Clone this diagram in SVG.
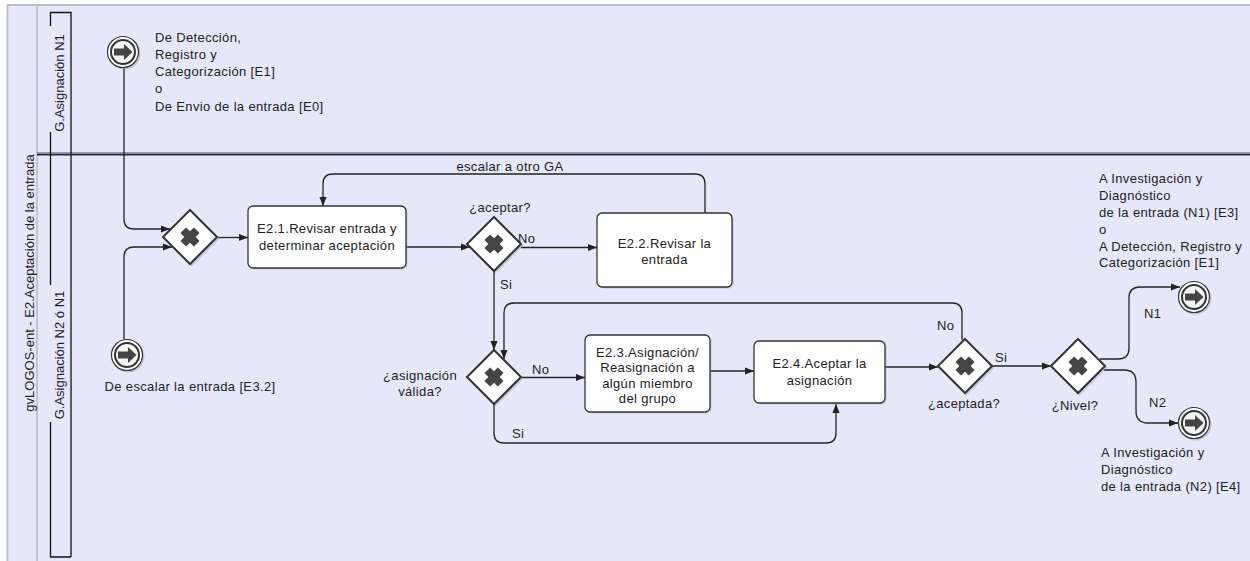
<svg xmlns="http://www.w3.org/2000/svg" width="1250" height="561" viewBox="0 0 1250 561">
<defs>
<style>
text{font-family:"Liberation Sans",Arial,sans-serif;font-size:13px;fill:#222;letter-spacing:0.35px}
.r{letter-spacing:0}
.c{text-anchor:middle}
.task{fill:#fff;stroke:#333;stroke-width:1.3}
.gw{fill:#fff;stroke:#333;stroke-width:2}
.x{fill:#444}
.conn{fill:none;stroke:#222;stroke-width:1.3}
.ev1{fill:#fff;stroke:#333;stroke-width:1.2}
.ev2{fill:#f4f4f4;stroke:#333;stroke-width:2}
.arr{fill:#444}
.sh{fill:#9a9aae;opacity:0.45}
</style>
<marker id="ah" viewBox="0 0 10 10" refX="10" refY="5" markerWidth="9" markerHeight="9" markerUnits="userSpaceOnUse" orient="auto">
<path d="M0,1 L10,5 L0,9 Z" fill="#222"/>
</marker>
<g id="xmark"><path class="x" d="M-4,-9.5 H4 V-4 H9.5 V4 H4 V9.5 H-4 V4 H-9.5 V-4 H-4 Z" transform="rotate(45)"/></g>
<g id="link">
<circle class="sh" cx="1.5" cy="1.5" r="16"/>
<circle class="ev1" r="15.5"/>
<circle class="ev2" r="12"/>
<path class="arr" d="M-9,-3.5 H1 V-8 L9.5,0 L1,8 V3.5 H-9 Z"/>
</g>
<g id="gwshape">
<path class="sh" d="M1.5,-25.5 L29.5,1.5 L1.5,29.5 L-25.5,1.5 Z"/>
<path class="gw" d="M0,-27 L27,0 L0,27 L-27,0 Z"/>
<use href="#xmark"/>
</g>
</defs>

<!-- pool -->
<g id="pool">
<rect x="0" y="0" width="1250" height="561" fill="#fff"/>
<rect x="7" y="5" width="1243" height="556" fill="#e7e7fb"/>
<line x1="7" y1="5" x2="1250" y2="5" stroke="#bdbdc6" stroke-width="2"/>
<line x1="7.5" y1="5" x2="7.5" y2="561" stroke="#bdbdc6" stroke-width="2"/>
<line x1="37" y1="5" x2="37" y2="561" stroke="#c4c4cc" stroke-width="2"/>
<text transform="translate(34,283) rotate(-90)" class="c r">gvLOGOS-ent - E2.Aceptación de la entrada</text>
<line x1="37" y1="152.5" x2="1250" y2="152.5" stroke="#9a9aa8" stroke-width="1"/>
<line x1="37" y1="154.5" x2="1250" y2="154.5" stroke="#2a2a35" stroke-width="2"/>
</g>

<g id="lane1">
<path d="M50.5,26 V12.5 H71 V557" fill="none" stroke="#111" stroke-width="1.3"/>
<line x1="50.5" y1="132" x2="50.5" y2="285" stroke="#111" stroke-width="1.3"/>
<text transform="translate(64,83) rotate(-90)" class="c r">G.Asignación N1</text>
</g>
<g id="lane2">
<path d="M50.5,422 V557 H71" fill="none" stroke="#111" stroke-width="1.3"/>
<text transform="translate(64,355) rotate(-90)" class="c r">G.Asignación N2 ó N1</text>
</g>

<!-- connectors -->
<g id="connectors">
<path class="conn" marker-end="url(#ah)" d="M124,68 V219 Q124,229 134,229 H170"/>
<path class="conn" marker-end="url(#ah)" d="M124,339 V257 Q124,247 134,247 H172"/>
<path class="conn" marker-end="url(#ah)" d="M218,237.5 H248"/>
<path class="conn" marker-end="url(#ah)" d="M406,247 H470"/>
<path class="conn" marker-end="url(#ah)" d="M521,247.5 H597"/>
<path class="conn" marker-end="url(#ah)" d="M705,213 V184 Q705,174 695,174 H333 Q323,174 323,184 V206"/>
<path class="conn" marker-end="url(#ah)" d="M494,271 V350"/>
<path class="conn" marker-end="url(#ah)" d="M962,340 V313 Q962,303 952,303 H514 Q504,303 504,313 V359"/>
<path class="conn" marker-end="url(#ah)" d="M522,377.5 H585"/>
<path class="conn" marker-end="url(#ah)" d="M710,371 H754"/>
<path class="conn" marker-end="url(#ah)" d="M494,404 V433 Q494,443 504,443 H826 Q836,443 836,433 V404"/>
<path class="conn" marker-end="url(#ah)" d="M885,367 H938"/>
<path class="conn" marker-end="url(#ah)" d="M992,366 H1051"/>
<path class="conn" marker-end="url(#ah)" d="M1100,359 H1118 Q1129,359 1129,348 V298 Q1129,287 1140,287 H1180"/>
<path class="conn" marker-end="url(#ah)" d="M1104,370 H1124 Q1136,370 1136,382 V411 Q1136,423 1148,423 H1178"/>
</g>

<!-- connector labels -->
<g id="labels">
<text x="510" y="171" class="c">escalar a otro GA</text>
<text x="518" y="243">No</text>
<text x="500" y="289">Si</text>
<text x="532" y="374">No</text>
<text x="512" y="438">Si</text>
<text x="937" y="330">No</text>
<text x="995" y="362">Si</text>
<text x="1144" y="318">N1</text>
<text x="1149" y="407">N2</text>
</g>

<!-- nodes -->
<g id="start1">
<use href="#link" x="123" y="52"/>
<text x="155" y="42">De Detección,</text>
<text x="155" y="59">Registro y</text>
<text x="155" y="76">Categorización [E1]</text>
<text x="155" y="93">o</text>
<text x="155" y="111">De Envio de la entrada [E0]</text>
</g>

<g id="start2">
<use href="#link" x="127" y="355"/>
<text x="190" y="391" class="c">De escalar la entrada [E3.2]</text>
</g>

<g id="gw1">
<use href="#gwshape" x="190" y="237"/>
</g>

<g id="task21">
<rect x="249.5" y="207.5" width="158" height="62" rx="5" class="sh"/>
<rect x="248" y="206" width="158" height="62" rx="5" class="task"/>
<text x="327" y="233" class="c">E2.1.Revisar entrada y</text>
<text x="327" y="250" class="c">determinar aceptación</text>
</g>

<g id="gw2">
<use href="#gwshape" x="494" y="244"/>
<text x="500" y="212" class="c">¿aceptar?</text>
</g>

<g id="task22">
<rect x="598.5" y="214.5" width="135" height="74" rx="5" class="sh"/>
<rect x="597" y="213" width="135" height="74" rx="5" class="task"/>
<text x="664.5" y="248" class="c">E2.2.Revisar la</text>
<text x="664.5" y="264" class="c">entrada</text>
</g>

<g id="gw3">
<use href="#gwshape" x="494" y="377"/>
<text x="420" y="380" class="c">¿asignación</text>
<text x="420" y="396" class="c">válida?</text>
</g>

<g id="task23">
<rect x="586.5" y="336.5" width="125" height="77" rx="5" class="sh"/>
<rect x="585" y="335" width="125" height="77" rx="5" class="task"/>
<text x="647.5" y="357" class="c">E2.3.Asignación/</text>
<text x="647.5" y="372" class="c">Reasignación a</text>
<text x="647.5" y="388" class="c">algún miembro</text>
<text x="647.5" y="403" class="c">del grupo</text>
</g>

<g id="task24">
<rect x="755.5" y="342.5" width="131" height="62" rx="5" class="sh"/>
<rect x="754" y="341" width="131" height="62" rx="5" class="task"/>
<text x="819.5" y="368" class="c">E2.4.Aceptar la</text>
<text x="819.5" y="385" class="c">asignación</text>
</g>

<g id="gw4">
<use href="#gwshape" x="965" y="366"/>
<text x="964" y="408" class="c">¿aceptada?</text>
</g>

<g id="gw5">
<use href="#gwshape" x="1078" y="366"/>
<text x="1075" y="410" class="c">¿Nivel?</text>
</g>

<g id="end1">
<use href="#link" x="1194" y="297"/>
<text x="1099" y="183">A Investigación y</text>
<text x="1099" y="200">Diagnóstico</text>
<text x="1099" y="217">de la entrada (N1) [E3]</text>
<text x="1099" y="234">o</text>
<text x="1099" y="251">A Detección, Registro y</text>
<text x="1099" y="267">Categorización [E1]</text>
</g>

<g id="end2">
<use href="#link" x="1194" y="423"/>
<text x="1101" y="457">A Investigación y</text>
<text x="1101" y="474">Diagnóstico</text>
<text x="1101" y="491">de la entrada (N2) [E4]</text>
</g>
</svg>
